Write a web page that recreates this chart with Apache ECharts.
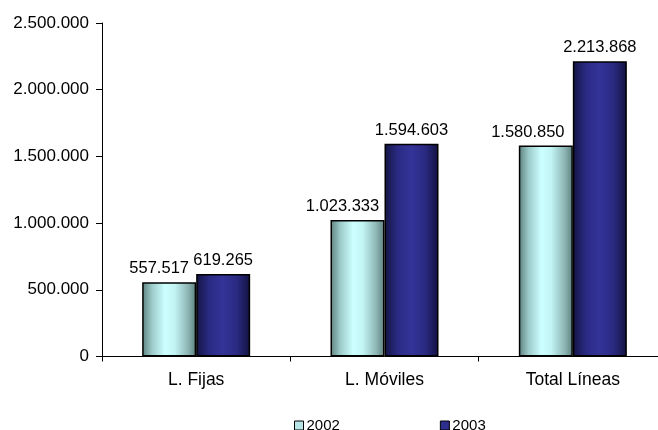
<!DOCTYPE html>
<html>
<head>
<meta charset="utf-8">
<script src="https://cdn.jsdelivr.net/npm/echarts@6/dist/echarts.min.js"></script>
<style>html,body{margin:0;padding:0;background:#fff;overflow:hidden}#wrap{width:658px;height:430px;overflow:hidden;position:relative}#c{width:680px;height:430px;position:absolute;left:0;top:0}</style>
</head>
<body>
<div id="wrap"><div id="c"></div></div>
<script>
const categories = ['L. Fijas', 'L. Móviles', 'Total Líneas'];
const seriesNames = ['2002', '2003'];
const values2002 = [557517, 1023333, 1580850];
const values2003 = [619265, 1594603, 2213868];
const yTicks = [0, 500000, 1000000, 1500000, 2000000, 2500000];

// label horizontal nudges (style only)
const shift2002 = [-10, -15, -18];
const shift2003 = [0, 0, 0];

function fmt(v) {
  return String(v).replace(/\B(?=(\d{3})+(?!\d))/g, '.');
}

const FONT = 'Liberation Sans';
const lightGrad = new echarts.graphic.LinearGradient(0, 0, 1, 0, [
  {offset: 0, color: '#5b807e'},
  {offset: 0.18, color: '#9ccac9'},
  {offset: 0.42, color: '#ccffff'},
  {offset: 0.6, color: '#c2f4f4'},
  {offset: 0.85, color: '#8db5b4'},
  {offset: 1, color: '#5b807e'}
]);
const darkGrad = new echarts.graphic.LinearGradient(0, 0, 1, 0, [
  {offset: 0, color: '#141444'},
  {offset: 0.25, color: '#2b2b85'},
  {offset: 0.5, color: '#333399'},
  {offset: 0.75, color: '#2a2a82'},
  {offset: 1, color: '#121240'}
]);
const legendLight = '#b8e6e6';
const legendDark = '#2e2e8c';

function build(vals, shifts) {
  return vals.map((v, i) => ({
    value: v,
    label: {offset: [shifts[i], 0]}
  }));
}

const chart = echarts.init(document.getElementById('c'), null, {renderer: 'canvas'});
chart.setOption({
  animation: false,
  backgroundColor: '#ffffff',
  textStyle: {fontFamily: FONT, color: '#000'},
  grid: {left: 102, top: 23, width: 565, height: 333.5},
  legend: {
    left: 294, top: 418, padding: 0,
    itemWidth: 9, itemHeight: 9, itemGap: 100,
    icon: 'rect',
    textStyle: {fontFamily: FONT, fontSize: 15, color: '#000', padding: [0, 0, 0, -2]},
    data: [
      {name: seriesNames[0], itemStyle: {color: legendLight, borderColor: '#000', borderWidth: 1}},
      {name: seriesNames[1], itemStyle: {color: legendDark, borderColor: '#000', borderWidth: 1}}
    ]
  },
  xAxis: {
    type: 'category',
    data: categories,
    axisLine: {lineStyle: {color: '#000', width: 1}},
    axisTick: {show: true, length: 5, lineStyle: {color: '#000'}},
    axisLabel: {fontFamily: FONT, fontSize: 17.5, color: '#000', margin: 15}
  },
  yAxis: {
    type: 'value',
    min: yTicks[0], max: yTicks[yTicks.length - 1], interval: yTicks[1] - yTicks[0],
    axisLine: {show: true, lineStyle: {color: '#000', width: 1}},
    axisTick: {show: true, length: 6, lineStyle: {color: '#000'}},
    splitLine: {show: false},
    axisLabel: {fontFamily: FONT, fontSize: 17, color: '#000', margin: 13, formatter: v => fmt(v)}
  },
  series: [
    {
      name: seriesNames[0], type: 'bar', barWidth: 54, barGap: '0%',
      itemStyle: {color: lightGrad, borderColor: '#000', borderWidth: 1.5},
      label: {show: true, position: 'top', distance: 5, fontFamily: FONT, fontSize: 16.5, color: '#000', formatter: p => fmt(p.value)},
      data: build(values2002, shift2002)
    },
    {
      name: seriesNames[1], type: 'bar', barWidth: 54, barGap: '0%',
      itemStyle: {color: darkGrad, borderColor: '#000', borderWidth: 1.5},
      label: {show: true, position: 'top', distance: 5, fontFamily: FONT, fontSize: 16.5, color: '#000', formatter: p => fmt(p.value)},
      data: build(values2003, shift2003)
    }
  ]
});
</script>
</body>
</html>
